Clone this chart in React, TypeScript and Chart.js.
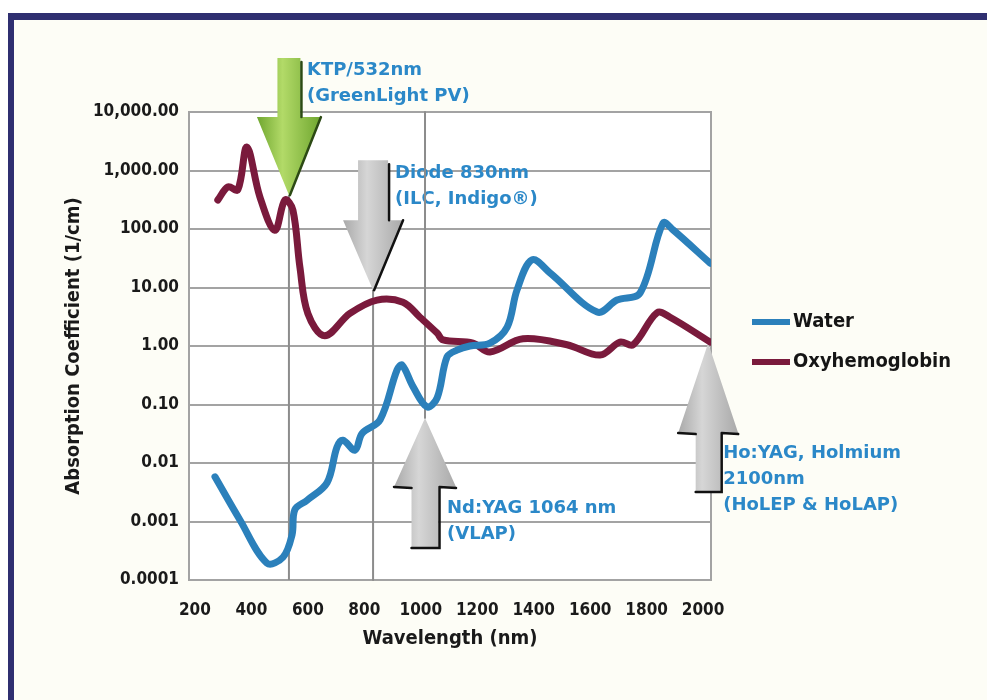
import React, { useEffect, useRef } from "react";
import { Chart, registerables } from "chart.js";

Chart.register(...registerables);

// ---------- data ----------
const wavelengthTicks = [200, 400, 600, 800, 1000, 1200, 1400, 1600, 1800, 2000];
const absorptionTicks = [0.0001, 0.001, 0.01, 0.1, 1, 10, 100, 1000, 10000];
const absorptionTickLabels = ["0.0001", "0.001", "0.01", "0.10", "1.00", "10.00", "100.00", "1,000.00", "10,000.00"];

const seriesNames = ["Water", "Oxyhemoglobin"];

const waterWavelengths = [271, 359, 455, 512, 544, 554, 597, 668, 703, 724, 767, 792, 856, 916, 934, 973, 1022, 1058, 1093, 1128, 1174, 1245, 1306, 1341, 1394, 1458, 1625, 1695, 1777, 1858, 1894, 2025];
const waterValues = [0.0058, 0.00107, 0.000195, 0.000245, 0.00059, 0.0016, 0.0023, 0.0046, 0.0186, 0.0245, 0.0166, 0.032, 0.055, 0.39, 0.47, 0.2, 0.091, 0.13, 0.65, 0.85, 1.0, 1.12, 2.1, 9.1, 29.6, 17.7, 3.8, 6.1, 8.1, 126, 96, 26];

const oxyWavelengths = [281, 317, 352, 384, 430, 483, 519, 547, 572, 600, 660, 749, 845, 937, 997, 1058, 1079, 1185, 1245, 1362, 1518, 1635, 1706, 1752, 1837, 1883, 2025];
const oxyValues = [313, 525, 467, 2520, 355, 95, 315, 211, 22, 3.6, 1.5, 3.6, 6.1, 5.6, 3.1, 1.66, 1.27, 1.12, 0.79, 1.33, 1.05, 0.7, 1.17, 1.05, 3.7, 3.1, 1.17];

const laserLabelLines = [
  ["KTP/532nm", "(GreenLight PV)"],
  ["Diode 830nm", "(ILC, Indigo®)"],
  ["Nd:YAG 1064 nm", "(VLAP)"],
  ["Ho:YAG, Holmium", "2100nm", "(HoLEP & HoLAP)"],
];
const laserArrowWavelengths = [533, 831, 1015, 2018];
const laserArrowTipValues = [380, 9, 0.059, 1.12];

// ---------- styles ----------
const WATER_COLOR = "#2b80bb";
const OXY_COLOR = "#7a1a3c";
const GRID_COLOR = "#a3a3a3";
const LABEL_BLUE = "#2b88c8";
const COND = '"DejaVu Sans Condensed", "Liberation Sans Narrow", "DejaVu Sans", sans-serif';
const WIDE = '"DejaVu Sans", "Liberation Sans", sans-serif';

const ARROW_STYLE = [
  { dir: 1, len: 137, shaft: 23, head: 64, headLen: 78, light: "#b2da68", dark: "#6fa62f", edge: "#2c4a14", dx: 18, dy: -125, guide: "down" },
  { dir: 1, len: 130, shaft: 30, head: 60, headLen: 70, light: "#d6d6d6", dark: "#a9a9a9", edge: "#111111", dx: 22, dy: -117, guide: "down" },
  { dir: -1, len: 130, shaft: 27, head: 62, headLen: 69, light: "#d6d6d6", dark: "#a9a9a9", edge: "#111111", dx: 22, dy: 90, guide: "up" },
  { dir: -1, len: 149, shaft: 25, head: 60, headLen: 90, light: "#d6d6d6", dark: "#a9a9a9", edge: "#111111", dx: 15, dy: 110, guide: "none" },
];

function drawArrow(ctx: CanvasRenderingContext2D, cx: number, tipY: number, s: any) {
  const d = s.dir;
  const base = tipY - d * s.headLen;
  const tail = tipY - d * s.len;
  const hs = s.shaft / 2;
  const hh = s.head / 2;
  const g = ctx.createLinearGradient(cx - hh, 0, cx + hh, 0);
  g.addColorStop(0, s.dark);
  g.addColorStop(0.4, s.light);
  g.addColorStop(1, s.dark);
  ctx.beginPath();
  ctx.moveTo(cx - hs, tail);
  ctx.lineTo(cx + hs, tail);
  ctx.lineTo(cx + hs, base);
  ctx.lineTo(cx + hh, base);
  ctx.lineTo(cx, tipY);
  ctx.lineTo(cx - hh, base);
  ctx.lineTo(cx - hs, base);
  ctx.closePath();
  ctx.fillStyle = g;
  ctx.fill();
  ctx.strokeStyle = s.edge;
  ctx.lineWidth = 2.5;
  ctx.lineCap = "round";
  ctx.beginPath();
  if (d === 1) {
    ctx.moveTo(cx + hh, base);
    ctx.lineTo(cx + 1, tipY);
    ctx.moveTo(cx + hs + 1, tail + 4);
    ctx.lineTo(cx + hs + 1, base);
  } else {
    ctx.moveTo(cx - hh, base);
    ctx.lineTo(cx - hs, base + 1);
    ctx.moveTo(cx + hs + 1, base);
    ctx.lineTo(cx + hs + 1, tail);
    ctx.lineTo(cx - hs, tail);
    ctx.moveTo(cx + hs + 1, base);
    ctx.lineTo(cx + hh, base + 1);
  }
  ctx.stroke();
}

const decorPlugin = {
  id: "decor",
  beforeDraw(chart: any) {
    const { ctx, width, height, chartArea: a } = chart;
    ctx.save();
    ctx.fillStyle = "#ffffff";
    ctx.fillRect(0, 0, width, height);
    ctx.fillStyle = "#fdfdf6";
    ctx.fillRect(8, 14, width - 8, height - 14);
    ctx.fillStyle = "#ffffff";
    ctx.fillRect(a.left, a.top, a.right - a.left, a.bottom - a.top);
    ctx.fillStyle = "#2f2f70";
    ctx.fillRect(8, 13, width - 8, 7);
    ctx.fillRect(8, 13, 6, height - 13);
    ctx.restore();
  },
  beforeDatasetsDraw(chart: any) {
    const { ctx, chartArea: a, scales } = chart;
    ctx.save();
    // plot border
    ctx.strokeStyle = GRID_COLOR;
    ctx.lineWidth = 2;
    ctx.strokeRect(a.left, a.top, a.right - a.left, a.bottom - a.top);
    laserArrowWavelengths.forEach((w, i) => {
      const s = ARROW_STYLE[i];
      const cx = scales.x.getPixelForValue(w);
      const tip = scales.y.getPixelForValue(laserArrowTipValues[i]);
      ctx.strokeStyle = "#8c8c8c";
      ctx.lineWidth = 2;
      ctx.beginPath();
      if (s.guide === "down") {
        ctx.moveTo(cx, tip);
        ctx.lineTo(cx, a.bottom);
      } else if (s.guide === "up") {
        ctx.moveTo(cx, a.top);
        ctx.lineTo(cx, tip);
      }
      ctx.stroke();
      drawArrow(ctx, cx, tip, s);
      ctx.fillStyle = LABEL_BLUE;
      ctx.font = "bold 18px " + WIDE;
      ctx.textAlign = "left";
      ctx.textBaseline = "middle";
      laserLabelLines[i].forEach((line, j) => {
        ctx.fillText(line, cx + s.dx, tip + s.dy + j * 26);
      });
    });
    ctx.restore();
  },
  afterDraw(chart: any) {
    const { ctx } = chart;
    ctx.save();
    const colors = [WATER_COLOR, OXY_COLOR];
    seriesNames.forEach((name, i) => {
      const y = 322 + i * 40;
      ctx.strokeStyle = colors[i];
      ctx.lineWidth = 6;
      ctx.beginPath();
      ctx.moveTo(752, y);
      ctx.lineTo(790, y);
      ctx.stroke();
      ctx.fillStyle = "#151515";
      ctx.font = "bold 20px " + COND;
      ctx.textAlign = "left";
      ctx.textBaseline = "middle";
      ctx.fillText(name, 793, y);
    });
    ctx.restore();
  },
};

export default function App() {
  const ref = useRef<HTMLCanvasElement | null>(null);
  useEffect(() => {
    if (!ref.current) return;
    const tickFont = { family: COND, size: 17, weight: "bold" as const };
    const titleFont = { family: COND, size: 20, weight: "bold" as const };
    const chart = new Chart(ref.current, {
      type: "line",
      data: {
        datasets: [
          {
            label: seriesNames[0],
            data: waterWavelengths.map((w, i) => ({ x: w, y: waterValues[i] })),
            borderColor: WATER_COLOR,
            borderWidth: 7,
            pointRadius: 0,
            tension: 0.35,
            borderCapStyle: "round",
            borderJoinStyle: "round",
          },
          {
            label: seriesNames[1],
            data: oxyWavelengths.map((w, i) => ({ x: w, y: oxyValues[i] })),
            borderColor: OXY_COLOR,
            borderWidth: 7,
            pointRadius: 0,
            tension: 0.35,
            borderCapStyle: "round",
            borderJoinStyle: "round",
          },
        ],
      },
      options: {
        animation: false,
        responsive: false,
        devicePixelRatio: 1,
        layout: { padding: { left: 0, right: 276, top: 112, bottom: 0 } },
        plugins: { legend: { display: false }, tooltip: { enabled: false } },
        scales: {
          x: {
            type: "linear",
            min: 179,
            max: 2028,
            afterBuildTicks: (s: any) => {
              s.ticks = wavelengthTicks.map((v) => ({ value: v }));
            },
            afterFit: (s: any) => {
              s.height = 120;
            },
            ticks: {
              font: tickFont,
              color: "#1a1a1a",
              padding: 20,
              maxRotation: 0,
              autoSkip: false,
              callback: (v: any) => String(v),
            },
            grid: { display: false, drawTicks: false },
            border: { display: false },
            title: {
              display: true,
              text: "Wavelength (nm)",
              font: titleFont,
              color: "#1a1a1a",
              padding: { top: 0, bottom: 49 },
            },
          },
          y: {
            type: "logarithmic",
            min: 0.0001,
            max: 10000,
            afterBuildTicks: (s: any) => {
              s.ticks = absorptionTicks.map((v) => ({ value: v }));
            },
            afterFit: (s: any) => {
              s.width = 189;
            },
            ticks: {
              font: tickFont,
              color: "#1a1a1a",
              padding: 10,
              autoSkip: false,
              callback: (_v: any, i: number) => absorptionTickLabels[i],
            },
            grid: { color: GRID_COLOR, lineWidth: 2, drawTicks: false },
            border: { display: true, color: GRID_COLOR, width: 2 },
            title: {
              display: true,
              text: "Absorption Coefficient (1/cm)",
              font: titleFont,
              color: "#1a1a1a",
              padding: { top: 62, bottom: 0 },
            },
          },
        },
      } as any,
      plugins: [decorPlugin],
    });
    return () => chart.destroy();
  }, []);
  return (
    <div style={{ position: "fixed", left: 0, top: 0, width: 987, height: 700 }}>
      <canvas ref={ref} width={987} height={700} style={{ display: "block", width: 987, height: 700 }} />
    </div>
  );
}
